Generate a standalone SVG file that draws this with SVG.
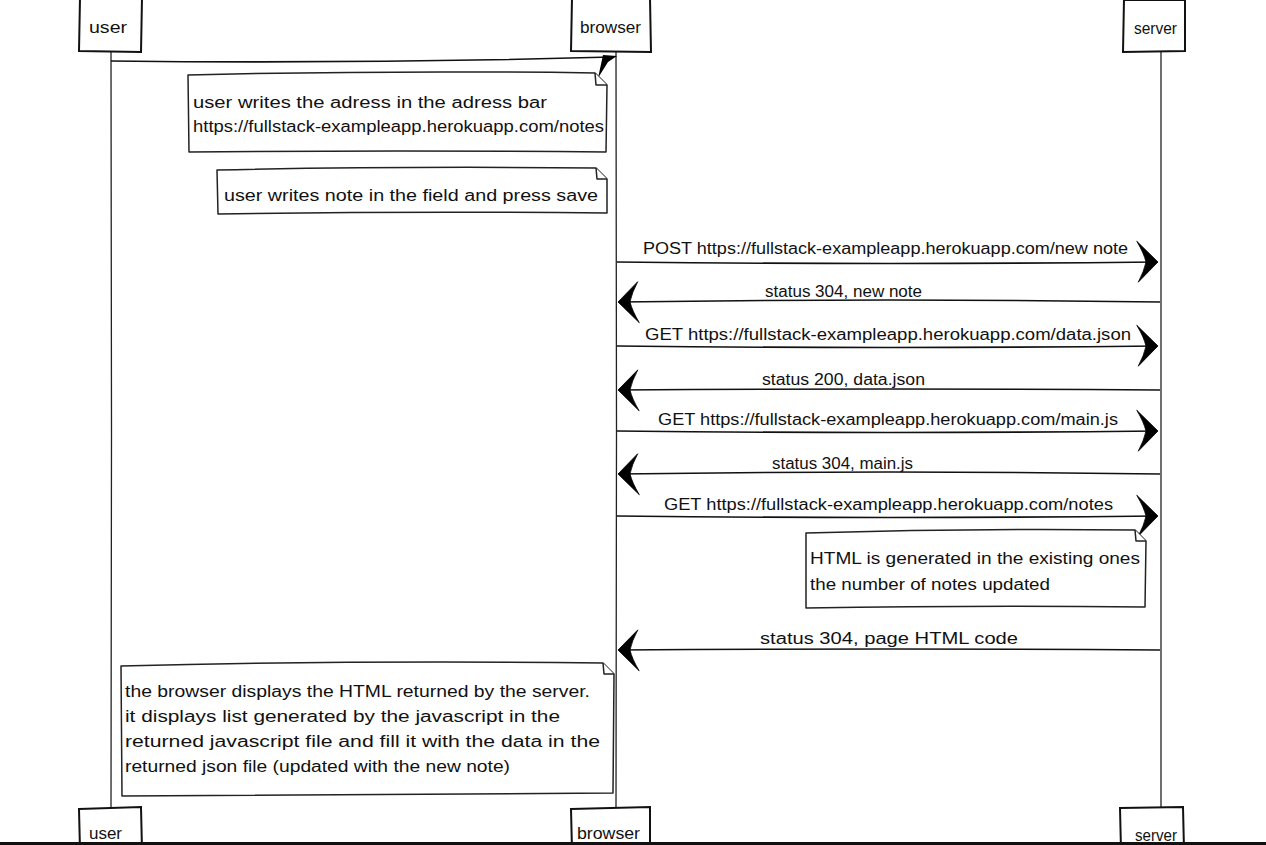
<svg xmlns="http://www.w3.org/2000/svg" width="1266" height="845" viewBox="0 0 1266 845">
<style>
  text { font-family: "Liberation Sans", "DejaVu Sans", sans-serif; font-size: 16px; fill: #111; }
  .box { fill: #fff; stroke: #111; stroke-width: 2; }
  .note { fill: #fff; stroke: #222; stroke-width: 1.5; stroke-linejoin: round; }
  .life { fill: none; stroke: #222; stroke-width: 1.3; }
  .msg { fill: none; stroke: #111; stroke-width: 1.6; }
</style>
<defs>
  <marker id="head" markerUnits="userSpaceOnUse" viewBox="-24 -24 26 48" refX="0" refY="0" markerWidth="26" markerHeight="48" orient="auto">
    <path d="M1,0 L-20,-21 Q-13,-9 -11,0 Q-13,9 -19,20 Z" fill="#000" stroke="#000" stroke-width="0.8" stroke-linejoin="round"/>
  </marker>
</defs>
<rect width="1266" height="845" fill="#fff"/>

<g id="lifelines">
  <path class="life" d="M111,52 Q112,430 111,808"/>
  <path class="life" d="M616,52 Q617,430 616,808"/>
  <path class="life" d="M1161,52 Q1160,430 1161,807"/>
</g>

<g id="actor-user-top">
  <path class="box" d="M80,-2 L142,-2 L141,52 L79,51 Z"/>
  <text x="89" y="33" textLength="38" lengthAdjust="spacingAndGlyphs">user</text>
</g>
<g id="actor-browser-top">
  <path class="box" d="M572,-2 L650,-2 L651,52 L571,51 Z"/>
  <text x="580" y="33" textLength="61" lengthAdjust="spacingAndGlyphs">browser</text>
</g>
<g id="actor-server-top">
  <path class="box" d="M1124,-1 L1185,0 L1185,51 L1123,52 Z"/>
  <text x="1134" y="34" textLength="43" lengthAdjust="spacingAndGlyphs">server</text>
</g>

<g id="connectors">
  <path class="msg" d="M111,61 Q360,64 612,57"/>
  <polygon points="603,55 617,56 608,62 598,78" fill="#000"/>
  <path class="msg" d="M617,262 Q890,265 1157,262" marker-end="url(#head)"/>
  <path class="msg" d="M1160,302 Q890,298 619,302" marker-end="url(#head)"/>
  <path class="msg" d="M617,346 Q890,349 1157,346" marker-end="url(#head)"/>
  <path class="msg" d="M1160,390 Q890,388 619,390" marker-end="url(#head)"/>
  <path class="msg" d="M617,431 Q890,434 1157,431" marker-end="url(#head)"/>
  <path class="msg" d="M1160,474 Q890,470 619,474" marker-end="url(#head)"/>
  <path class="msg" d="M617,516 Q890,519 1157,516" marker-end="url(#head)"/>
  <path class="msg" d="M1160,650 Q890,648 619,650" marker-end="url(#head)"/>
</g>

<g id="labels">
  <text x="643" y="254" textLength="485" lengthAdjust="spacingAndGlyphs">POST https://fullstack-exampleapp.herokuapp.com/new note</text>
  <text x="765" y="297" textLength="157" lengthAdjust="spacingAndGlyphs">status 304, new note</text>
  <text x="645" y="340" textLength="486" lengthAdjust="spacingAndGlyphs">GET https://fullstack-exampleapp.herokuapp.com/data.json</text>
  <text x="762" y="385" textLength="163" lengthAdjust="spacingAndGlyphs">status 200, data.json</text>
  <text x="658" y="425" textLength="460" lengthAdjust="spacingAndGlyphs">GET https://fullstack-exampleapp.herokuapp.com/main.js</text>
  <text x="772" y="469" textLength="141" lengthAdjust="spacingAndGlyphs">status 304, main.js</text>
  <text x="664" y="510" textLength="449" lengthAdjust="spacingAndGlyphs">GET https://fullstack-exampleapp.herokuapp.com/notes</text>
  <text x="760" y="644" textLength="258" lengthAdjust="spacingAndGlyphs">status 304, page HTML code</text>
</g>

<g id="note-address">
  <path class="note" d="M188,75 Q390,70 595,73 L607,85 L606,152 Q400,150 189,152 Z"/>
  <path class="note" d="M595,73 L596,85 L607,85"/>
  <text x="193" y="108" textLength="354" lengthAdjust="spacingAndGlyphs">user writes the adress in the adress bar</text>
  <text x="193" y="132" textLength="411" lengthAdjust="spacingAndGlyphs">https://fullstack-exampleapp.herokuapp.com/notes</text>
</g>

<g id="note-save">
  <path class="note" d="M217,170 Q400,166 596,168 L607,179 L607,213 Q410,211 218,214 Z"/>
  <path class="note" d="M596,168 L597,179 L607,179"/>
  <text x="224" y="201" textLength="374" lengthAdjust="spacingAndGlyphs">user writes note in the field and press save</text>
</g>

<g id="note-html">
  <path class="note" d="M806,533 Q970,528 1135,530 L1146,541 L1145,607 Q980,605 806,608 Z"/>
  <path class="note" d="M1135,530 L1136,541 L1146,541"/>
  <text x="810" y="564" textLength="330" lengthAdjust="spacingAndGlyphs">HTML is generated in the existing ones</text>
  <text x="810" y="590" textLength="240" lengthAdjust="spacingAndGlyphs">the number of notes updated</text>
</g>

<g id="note-display">
  <path class="note" d="M121,666 Q360,660 603,663 L614,674 L613,793 Q370,794 122,796 Z"/>
  <path class="note" d="M603,663 L604,674 L614,674"/>
  <text x="125" y="697" textLength="465" lengthAdjust="spacingAndGlyphs">the browser displays the HTML returned by the server.</text>
  <text x="125" y="722" textLength="435" lengthAdjust="spacingAndGlyphs">it displays list generated by the javascript in the</text>
  <text x="125" y="747" textLength="475" lengthAdjust="spacingAndGlyphs">returned javascript file and fill it with the data in the</text>
  <text x="125" y="772" textLength="385" lengthAdjust="spacingAndGlyphs">returned json file (updated with the new note)</text>
</g>

<g id="actor-user-bottom">
  <path class="box" d="M79,809 L141,807 L142,850 L80,850 Z"/>
  <text x="89" y="839" textLength="33" lengthAdjust="spacingAndGlyphs">user</text>
</g>
<g id="actor-browser-bottom">
  <path class="box" d="M571,809 L650,807 L650,850 L572,850 Z"/>
  <text x="577" y="839" textLength="63" lengthAdjust="spacingAndGlyphs">browser</text>
</g>
<g id="actor-server-bottom">
  <path class="box" d="M1120,808 L1183,807 L1184,850 L1121,850 Z"/>
  <text x="1135" y="841" textLength="42" lengthAdjust="spacingAndGlyphs">server</text>
</g>

<rect x="0" y="842" width="1266" height="3" fill="#111"/>
</svg>
